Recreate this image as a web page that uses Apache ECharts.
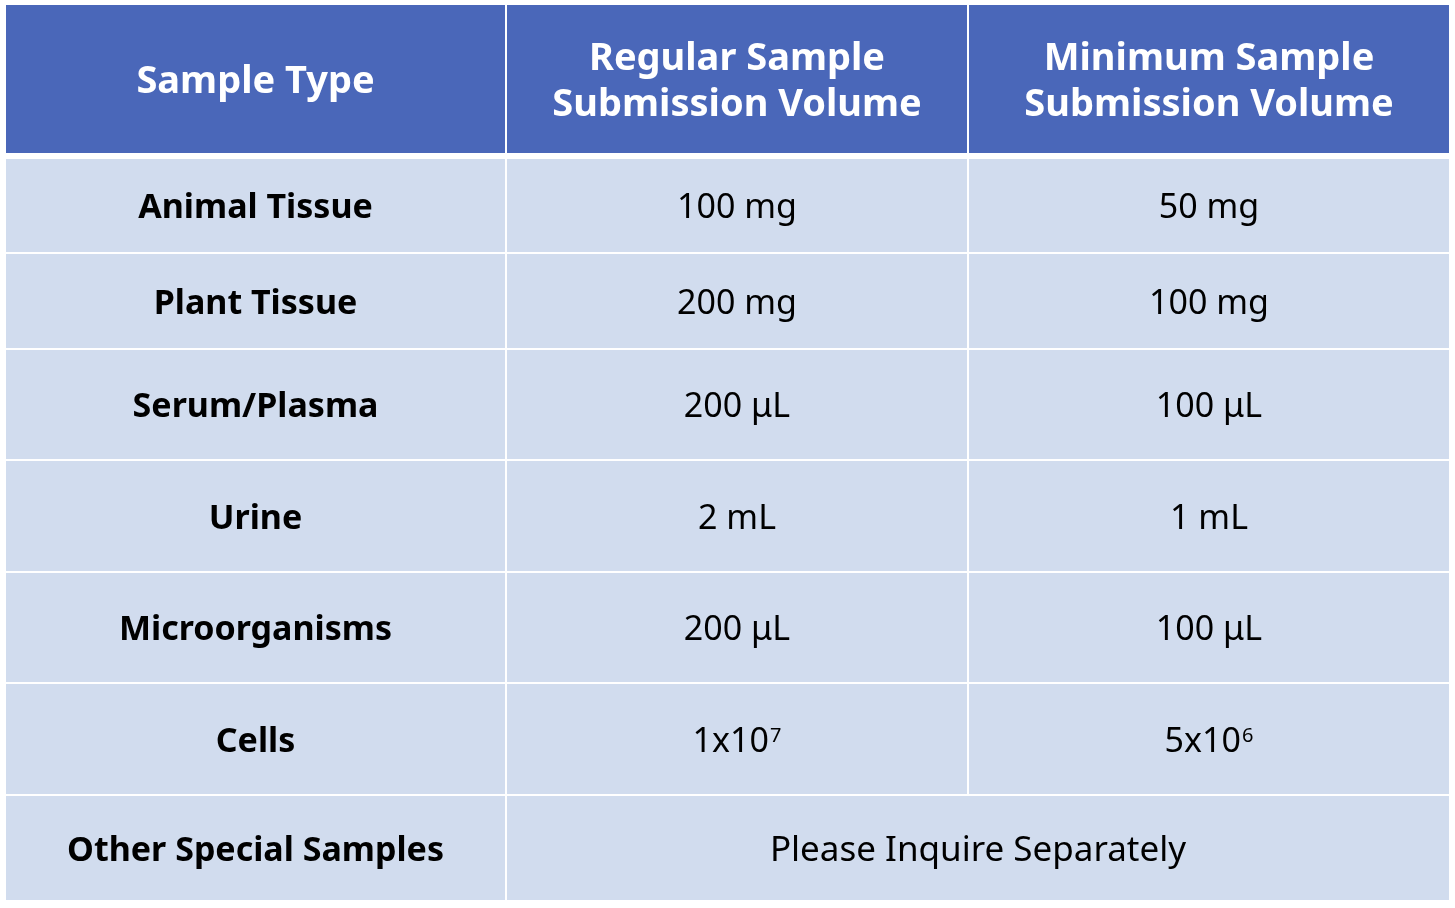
<!DOCTYPE html>
<html>
<head>
<meta charset="utf-8">
<script src="https://cdn.jsdelivr.net/npm/echarts@6/dist/echarts.min.js"></script>
<style>
html,body{margin:0;padding:0;background:#fff;}
#chart{width:1455px;height:908px;}
</style>
</head>
<body>
<div id="chart"></div>
<script>
// ---- data ----
const headers = ['Sample Type', 'Regular Sample\nSubmission Volume', 'Minimum Sample\nSubmission Volume'];
const sampleTypes = ['Animal Tissue', 'Plant Tissue', 'Serum/Plasma', 'Urine', 'Microorganisms', 'Cells', 'Other Special Samples'];
const regularVolume = ['100 mg', '200 mg', '200 μL', '2 mL', '200 μL', '1x10{sup|7}', 'Please Inquire Separately'];
const minimumVolume = ['50 mg', '100 mg', '100 μL', '1 mL', '100 μL', '5x10{sup|6}', null];

// ---- layout (pixel units on hidden value axes) ----
const colStart = [6, 507, 969];
const colEnd = [505, 967, 1449];
const rowStart = [5, 159, 254, 350, 461, 573, 684, 796];
const rowEnd = [153, 252, 348, 459, 571, 682, 794, 900];

const FONT = '"Noto Sans", "Open Sans", sans-serif';
const HEADER_BG = '#4A67B9';
const BODY_BG = '#D1DCEE';

// build cell list: [col, row, span]
const cells = [];
headers.forEach((h, c) => cells.push({ value: [c, 0, 1], text: h, kind: 'header' }));
sampleTypes.forEach((s, r) => {
  cells.push({ value: [0, r + 1, 1], text: s, kind: 'rowhead' });
  if (minimumVolume[r] === null) {
    cells.push({ value: [1, r + 1, 2], text: regularVolume[r], kind: 'value' });
  } else {
    cells.push({ value: [1, r + 1, 1], text: regularVolume[r], kind: 'value' });
    cells.push({ value: [2, r + 1, 1], text: minimumVolume[r], kind: 'value' });
  }
});

function renderItem(params, api) {
  const cell = cells[params.dataIndex];
  const c = api.value(0), r = api.value(1), span = api.value(2);
  const p0 = api.coord([colStart[c], rowStart[r]]);
  const p1 = api.coord([colEnd[c + span - 1], rowEnd[r]]);
  const x = Math.min(p0[0], p1[0]), y = Math.min(p0[1], p1[1]);
  const w = Math.abs(p1[0] - p0[0]), h = Math.abs(p1[1] - p0[1]);
  const isHeader = cell.kind === 'header';
  const isLong = cell.kind === 'value' && span > 1;
  const style = {
    text: cell.text,
    fill: isHeader ? '#ffffff' : '#000000',
    fontFamily: FONT,
    fontSize: isHeader ? 38 : (isLong ? 35 : 34),
    fontWeight: cell.kind === 'value' ? 'normal' : 'bold',
    lineHeight: isHeader ? 46 : 40,
    align: 'center',
    verticalAlign: 'middle',
    rich: {
      sup: {
        fontFamily: FONT,
        fontSize: 20,
        fill: '#000000',
        verticalAlign: 'top',
        lineHeight: 40,
        padding: [4, 0, 0, 1]
      }
    }
  };
  return {
    type: 'group',
    children: [
      { type: 'rect', shape: { x: x, y: y, width: w, height: h }, style: { fill: isHeader ? HEADER_BG : BODY_BG } },
      { type: 'text', x: x + w / 2, y: y + h / 2 + 3, style: style }
    ]
  };
}

const chart = echarts.init(document.getElementById('chart'), null, { renderer: 'canvas' });
chart.setOption({
  backgroundColor: '#ffffff',
  animation: false,
  grid: { left: 0, right: 0, top: 0, bottom: 0 },
  xAxis: { type: 'value', min: 0, max: 1455, show: false },
  yAxis: { type: 'value', min: 0, max: 908, inverse: true, show: false },
  series: [{
    type: 'custom',
    renderItem: renderItem,
    encode: { x: 0, y: 1 },
    data: cells.map(d => d.value),
    clip: false
  }]
});
</script>
</body>
</html>
